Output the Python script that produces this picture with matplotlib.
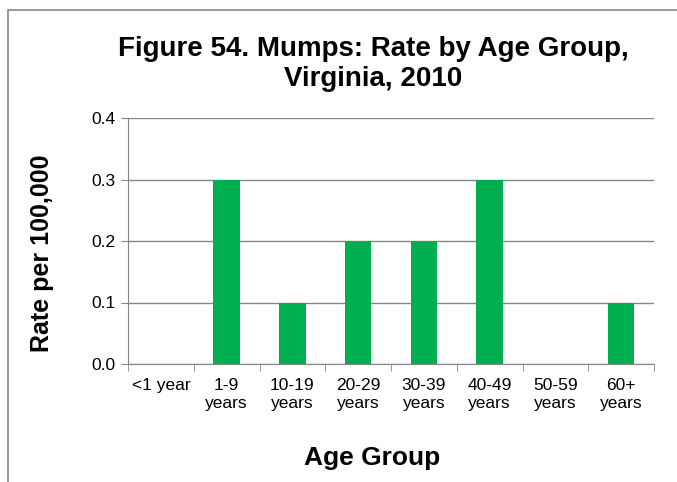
import matplotlib
matplotlib.use("Agg")
import matplotlib.pyplot as plt
import numpy as np

plt.rcParams['font.family'] = ['Liberation Sans', 'DejaVu Sans']

groups = ["<1 year", "1-9\nyears", "10-19\nyears", "20-29\nyears", "30-39\nyears",
          "40-49\nyears", "50-59\nyears", "60+\nyears"]
rates = [0.0, 0.3, 0.1, 0.2, 0.2, 0.3, 0.0, 0.1]
yticks = [0.0, 0.1, 0.2, 0.3, 0.4]

fig = plt.figure(figsize=(6.77, 4.82), dpi=100)
# outer chart border
fig.patches.append(plt.Rectangle((8 / 677, -0.1), 1.2, 1 - 10 / 482 + 0.1,
                                 transform=fig.transFigure, fill=False,
                                 edgecolor="#868686", linewidth=1.2))
ax = fig.add_axes([128 / 677, 1 - 364 / 482, (654 - 128) / 677, (364 - 118) / 482])

x = np.arange(len(groups))
ax.bar(x, rates, width=0.4, color="#00B050", zorder=3)

ax.set_ylim(0, 0.4)
ax.set_xlim(-0.5, len(groups) - 0.5)
ax.set_yticks(yticks)
ax.set_yticklabels([f"{v:.1f}" for v in yticks], fontsize=12.5)
ax.yaxis.grid(True, color="#868686", linewidth=1)
ax.set_axisbelow(True)

ax.set_xticks(x)
ax.set_xticklabels(groups, fontsize=12.5, linespacing=1.25)
ax.tick_params(axis="x", length=0, pad=10)
ax.set_xticks(np.arange(len(groups) + 1) - 0.5, minor=True)
ax.tick_params(axis="x", which="minor", length=5, color="#868686", direction="out")
ax.tick_params(axis="y", length=5, color="#868686", direction="out", pad=4)

for s in ["top", "right"]:
    ax.spines[s].set_visible(False)
for s in ["left", "bottom"]:
    ax.spines[s].set_color("#868686")

ax.set_ylabel("Rate per 100,000", fontsize=18, fontweight="bold")
ax.yaxis.set_label_coords((42 - 128) / 526, (364 - 253) / 246)
ax.set_xlabel("Age Group", fontsize=19, fontweight="bold")
ax.xaxis.set_label_coords((372 - 128) / 526, -(458 - 364) / 246)
ax.xaxis.label.set_va("center")
ax.yaxis.label.set_va("center")
fig.text(373 / 677, 1 - 64 / 482, "Figure 54. Mumps: Rate by Age Group,\nVirginia, 2010",
         fontsize=20, fontweight="bold", ha="center", va="center", linespacing=1.15)

fig.savefig("out.png", dpi=100)
